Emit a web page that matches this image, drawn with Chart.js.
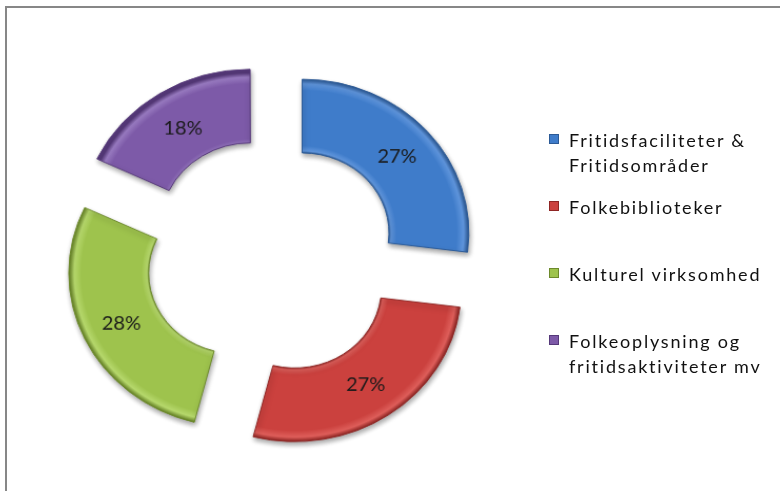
<!DOCTYPE html>
<html>
<head>
<meta charset="utf-8">
<script src="https://cdn.jsdelivr.net/npm/chart.js@4"></script>
<style>
  html, body { margin: 0; padding: 0; background: #fff; }
  body { width: 780px; height: 491px; overflow: hidden; position: relative; }
  #frame { position: absolute; left: 5px; top: 6px; width: 800px; height: 500px; border: 2px solid #878787; box-sizing: border-box; }
  /* the source picture is a little squashed vertically */
  #chart { position: absolute; left: 0; top: 0; transform-origin: 270px 251px; transform: translate(0, 2px) scale(1.053, 0.971); }
  #legend { position: absolute; left: 0; top: 0; font-family: Lato, "Open Sans", sans-serif; font-size: 18px; color: #111; letter-spacing: 1.8px; }
  .item { position: absolute; left: 549px; white-space: nowrap; }
  .box { position: absolute; left: 0; top: 6px; width: 10px; height: 10px; box-sizing: border-box; }
  .line { position: absolute; left: 20px; line-height: 24px; }
</style>
</head>
<body>
<div id="frame"></div>
<canvas id="chart" width="780" height="491"></canvas>
<div id="legend"></div>
<script>
// data
const labels = [
    ['Fritidsfaciliteter &', 'Fritidsområder'],
    ['Folkebiblioteker'],
    ['Kulturel virksomhed'],
    ['Folkeoplysning og', 'fritidsaktiviteter mv']
];
const shares = [27, 27, 28, 18];
const colors = ['#3f7cca', '#cb413e', '#9ec34d', '#7d5aa8'];
const darkColors = ['#2c5a96', '#8f2624', '#6d8a2c', '#56397a'];
const lightColors = ['#5f95dc', '#de5e5a', '#b6d86c', '#9779bf'];

const explode = 38; // px each slice is pulled out

// bevel-ish radial fill
function sliceFill(context) {
    const chart = context.chart;
    const i = context.dataIndex;
    const ctrl = chart.getDatasetMeta(0).controller;
    const area = chart.chartArea;
    if (!area || !ctrl.outerRadius) return colors[i];
    const cx = (area.left + area.right) / 2;
    const cy = (area.top + area.bottom) / 2;
    const g = chart.ctx.createRadialGradient(cx, cy, ctrl.innerRadius, cx, cy, ctrl.outerRadius);
    g.addColorStop(0, darkColors[i]);
    g.addColorStop(0.03, lightColors[i]);
    g.addColorStop(0.1, colors[i]);
    g.addColorStop(0.85, colors[i]);
    g.addColorStop(0.94, lightColors[i]);
    g.addColorStop(1, darkColors[i]);
    return g;
}

// percent labels inside slices
const sliceLabels = {
    id: 'sliceLabels',
    afterDatasetsDraw(chart) {
        const ctx = chart.ctx;
        const meta = chart.getDatasetMeta(0);
        ctx.save();
        ctx.font = '19px Lato, "Open Sans", sans-serif';
        ctx.fillStyle = '#1a1a1a';
        ctx.textAlign = 'center';
        ctx.textBaseline = 'middle';
        meta.data.forEach((arc, i) => {
            const mid = (arc.startAngle + arc.endAngle) / 2;
            const r = (arc.innerRadius + arc.outerRadius) / 2 + explode;
            ctx.fillText(shares[i] + '%', arc.x + Math.cos(mid) * r, arc.y + Math.sin(mid) * r + 1);
        });
        ctx.restore();
    }
};

// soft drop shadow under the slices
const sliceShadow = {
    id: 'sliceShadow',
    beforeDatasetsDraw(chart) {
        const ctx = chart.ctx;
        ctx.save();
        ctx.shadowColor = 'rgba(0,0,0,0.35)';
        ctx.shadowBlur = 5;
        ctx.shadowOffsetX = 1;
        ctx.shadowOffsetY = 3;
    },
    afterDatasetsDraw(chart) {
        chart.ctx.restore();
    }
};

new Chart(document.getElementById('chart'), {
    type: 'doughnut',
    data: {
        labels: labels,
        datasets: [{
            data: shares,
            backgroundColor: sliceFill,
            borderColor: darkColors,
            borderWidth: 1,
            offset: explode * 4
        }]
    },
    options: {
        responsive: false,
        animation: false,
        radius: 158,
        cutout: '52%',
        layout: { padding: { left: 0, right: 236, top: 20, bottom: 0 } },
        plugins: {
            legend: { display: false },
            tooltip: { enabled: false }
        }
    },
    plugins: [sliceShadow, sliceLabels]
});

// legend, right side
const legendTops = [128, 195, 262, 329];
const legend = document.getElementById('legend');
labels.forEach((lines, i) => {
    const item = document.createElement('div');
    item.className = 'item';
    item.style.top = legendTops[i] + 'px';
    const box = document.createElement('div');
    box.className = 'box';
    box.style.background = colors[i];
    box.style.border = '1px solid ' + darkColors[i];
    item.appendChild(box);
    lines.forEach((t, j) => {
        const line = document.createElement('div');
        line.className = 'line';
        line.style.top = (j * 25) + 'px';
        line.textContent = t;
        item.appendChild(line);
    });
    legend.appendChild(item);
});
</script>
</body>
</html>
